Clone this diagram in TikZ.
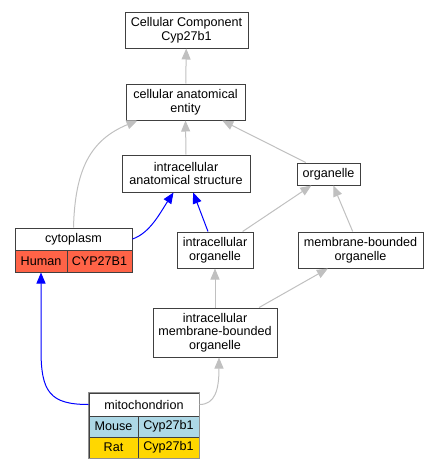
\documentclass[tikz,border=0pt]{standalone}
\usepackage{fontspec}
\setmainfont{Liberation Sans}
\usetikzlibrary{arrows.meta}
\definecolor{edgegray}{HTML}{C0C0C0}
\definecolor{boxline}{HTML}{404040}
\definecolor{outergray}{HTML}{909090}
\definecolor{tomatoc}{HTML}{FF6347}
\definecolor{lblue}{HTML}{ADD8E6}
\definecolor{goldc}{HTML}{FFD700}
\begin{document}
\begin{tikzpicture}[x=1pt,y=-1pt,
  term/.style={draw=boxline, line width=1pt, fill=white, align=center, inner sep=0pt,
    font=\fontsize{12.6}{13.5}\selectfont},
  cell/.style={draw=boxline, line width=1pt, align=center, inner sep=0pt,
    font=\fontsize{12.6}{13.5}\selectfont},
  gedge/.style={draw=edgegray, line width=1pt, -{Triangle[length=11pt,width=9pt]}},
  bedge/.style={draw=blue, line width=1pt, -{Triangle[length=11pt,width=9pt]}}]
\useasboundingbox (0,0) rectangle (437,469);

% terms
\node[term, minimum width=123, minimum height=36] (cc) at (186.5,30) {Cellular Component\\Cyp27b1};
\node[term, minimum width=119, minimum height=36] (cae) at (185.5,102) {cellular anatomical\\entity};
\node[term, minimum width=128, minimum height=37] (ias) at (186,173.5) {intracellular\\anatomical structure};
\node[term, minimum width=63, minimum height=22] (org) at (328.5,174) {organelle};
\node[term, minimum width=76, minimum height=36] (io) at (215,250) {intracellular\\organelle};
\node[term, minimum width=125, minimum height=36] (mbo) at (360.5,250) {membrane-bounded\\organelle};
\node[term, minimum width=124, minimum height=49] (imbo) at (215,332.5) {intracellular\\membrane-bounded\\organelle};

% cytoplasm table
\node[term, minimum width=117, minimum height=22] (cyto) at (73.5,239) {cytoplasm};
\node[cell, fill=tomatoc, minimum width=52, minimum height=22] (cyH) at (41,261) {Human};
\node[cell, fill=tomatoc, minimum width=65, minimum height=22] (cyG) at (99.5,261) {CYP27B1};

% mitochondrion table
\node[term, minimum width=110, minimum height=23] (mito) at (144,404.5) {mitochondrion};
\node[cell, fill=lblue, minimum width=49, minimum height=21] (miM) at (113.5,426.5) {Mouse};
\node[cell, fill=lblue, minimum width=61, minimum height=21] (miMG) at (168.5,426.5) {Cyp27b1};
\node[cell, fill=goldc, minimum width=49, minimum height=21] (miR) at (113.5,447.5) {Rat};
\node[cell, fill=goldc, minimum width=61, minimum height=21] (miRG) at (168.5,447.5) {Cyp27b1};
\draw[outergray, line width=1pt] (mito.north west) rectangle (miRG.south east);

% edges
\draw[gedge] (cae) -- (cc);
\draw[gedge] (ias.north) -- (cae.south);
\draw[gedge] (org) -- (cae);
\draw[gedge] (cyto.north) .. controls (75,170) and (90,140) .. ([xshift=12]cae.south west);
\draw[bedge] (cyto.east) .. controls (150,233) and (160,213) .. ([xshift=52]ias.south west);
\draw[bedge] (io) -- (ias);
\draw[gedge] (io) -- (org);
\draw[gedge] (mbo) -- (org);
\draw[gedge] (imbo) -- (io);
\draw[gedge] (imbo) -- (mbo);
\draw[bedge] (mito.west) .. controls (50,404.5) and (41,392) .. (41,350) -- (cyH.south);
\draw[gedge] (mito.east) .. controls (215,404.5) and (219,390) .. ([xshift=4]imbo.south);
\end{tikzpicture}
\end{document}
